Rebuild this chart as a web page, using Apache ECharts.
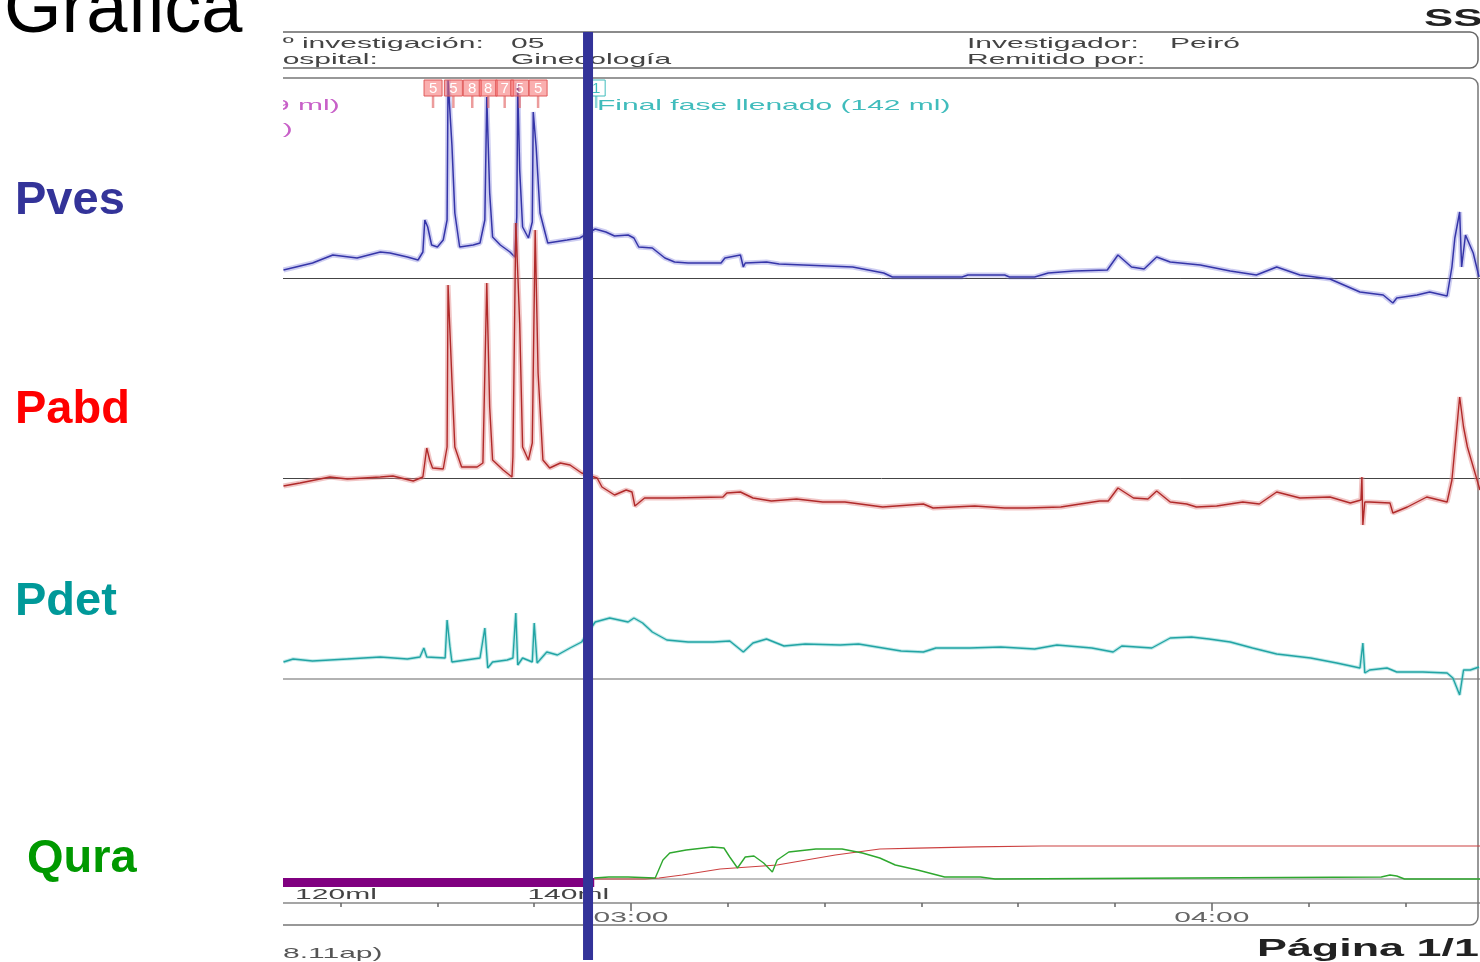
<!DOCTYPE html>
<html><head><meta charset="utf-8">
<script src="https://cdn.jsdelivr.net/npm/echarts@6/dist/echarts.min.js"></script>
<style>html,body{margin:0;padding:0;background:#fff}#c{width:1480px;height:962px}</style>
</head><body><div id="c"></div><script>
// ---- time axis (seconds) ----
const timeMin = 144.05, timeMax = 267.7;
const tickTimes = [150,160,170,180,190,200,210,220,230,240,250,260];
const labelTimes = [180, 240];
const tickLabels = ['03:00', '04:00'];
const volMarkTimes = [145.3, 169.3];
const volMarkLabels = ['120ml', '140ml'];
const fillingPhase = [144.05, 176.2];
const cursorTime = 175.56;
const eventTimes = [159.55, 161.65, 163.6, 165.25, 166.95, 168.5, 170.4];
const eventLabels = ['5', '5', '8', '8', '7', '5', '5'];
const endFillTimes = [176.4];
const endFillLabels = ['1'];

// ---- traces: [time s, value] ----
const pves = [[144.1,4],[147.1,7.5],[149.2,11.5],[151.7,10],[154.1,13],[155.1,12.5],[156.9,10.5],[158.0,9],[158.5,13],[158.7,29],[159.0,25.5],[159.4,16.5],[160.0,15.5],[160.6,19],[161.0,29],[161.1,99],[161.5,66.5],[161.8,32.5],[162.3,15.5],[163.7,16.5],[164.4,17.5],[164.9,29],[165.1,90.5],[165.4,42.5],[165.7,20.5],[166.5,16.5],[167.5,13],[168.0,10.5],[168.2,30.5],[168.3,97.5],[168.5,54],[168.8,25.5],[169.4,20],[169.8,28],[169.9,83],[170.2,65.5],[170.6,32.5],[171.4,17.5],[173.4,19],[174.7,20],[176.3,24.5],[177.4,23],[178.3,21],[179.7,21.5],[180.3,20],[180.8,15.5],[182.2,15],[183.5,10],[184.5,8],[185.9,7.5],[189.3,7.5],[189.7,10],[191.3,11.5],[191.6,5.5],[191.8,7.5],[194.0,8],[195.3,7],[197.8,6.5],[198.0,5.5],[202.9,5.5],[206.1,2.5],[207.0,0.5],[214.2,0.5],[214.8,1.5],[218.6,1.5],[219.1,0.5],[221.7,0.5],[223.1,2.5],[225.8,3.5],[229.2,4],[230.3,11.5],[231.7,5.5],[233.0,4.5],[234.3,10.5],[235.7,8],[238.8,6.5],[241.9,3.5],[244.6,1.5],[246.7,5.5],[249.1,1.5],[252.2,-0.5],[255.3,-7],[257.7,-8.5],[258.7,-12.5],[259.1,-10],[261.2,-8.5],[262.5,-7],[264.3,-9],[264.8,5.5],[265.1,20],[265.6,33],[265.8,5.5],[266.2,21.5],[267.0,12.5],[267.6,0.5]];
const pabd = [[144.1,-4],[145.8,-2.5],[148.9,0.5],[150.7,-0.5],[154.1,0.5],[155.4,1],[157.5,-1.5],[158.5,0.5],[158.9,15],[159.2,9],[159.5,5],[160.6,4.5],[161.0,15.5],[161.1,96.5],[161.5,49],[161.8,15.5],[162.5,5.5],[164.1,5.5],[164.7,7.5],[165.1,97.5],[165.4,35.5],[165.7,9],[166.8,4],[167.7,0.5],[167.8,10.5],[168.1,127.5],[168.5,77.5],[168.8,15.5],[169.4,9],[169.8,17.5],[170.1,124],[170.4,52.5],[170.9,9],[171.6,5],[172.7,7.5],[173.7,6.5],[174.9,2.5],[176.5,0],[177.0,-4.5],[178.3,-8.5],[179.5,-6],[180.1,-7],[180.4,-14],[181.4,-10],[184.3,-10],[189.5,-9.5],[189.9,-7.5],[191.3,-7],[192.6,-10],[194.5,-11.5],[197.1,-10.5],[199.8,-12],[202.1,-12],[206.0,-14.5],[210.2,-13],[211.2,-15],[215.5,-14],[218.6,-15],[220.9,-15],[224.4,-14.5],[228.4,-11.5],[229.3,-11.5],[230.3,-5],[231.9,-10],[233.4,-10.5],[234.3,-6.5],[235.7,-12],[237.4,-13],[238.4,-14.5],[240.5,-14],[243.2,-12],[244.9,-13],[246.7,-7],[249.1,-10],[252.2,-9.5],[254.3,-12.5],[255.4,-11],[255.5,0.5],[255.6,-23.5],[255.8,-12],[256.3,-12],[258.4,-12.5],[258.7,-17.5],[260.2,-14.5],[262.2,-9.5],[264.3,-12],[264.8,-1],[265.6,40.5],[266.0,25.5],[266.4,15.5],[267.7,-6]];
const pdet = [[144.1,8.5],[145.1,10],[147.1,9],[150.7,10],[154.1,11],[156.9,10],[158.2,11],[158.6,15.5],[158.9,11],[160.8,10.5],[161.0,29.5],[161.3,16],[161.5,8.5],[164.4,10.5],[164.9,25.5],[165.2,5.5],[165.7,8.5],[167.2,9.5],[167.8,10.5],[168.1,33],[168.3,7],[168.5,6],[168.8,10.5],[169.8,8.5],[170.0,28],[170.3,8],[171.3,13.5],[172.4,12],[173.7,15.5],[174.9,18.5],[176.3,28.5],[177.8,30.5],[179.7,28.5],[180.3,30.5],[181.2,28],[182.2,23.5],[183.7,19.5],[185.9,18.5],[188.5,18.5],[190.2,19],[191.6,13.5],[192.6,18],[194.0,20],[195.8,16.5],[198.0,17.5],[201.6,17],[203.5,17.5],[207.9,14],[210.2,13.5],[211.5,15.5],[215.0,15.5],[218.2,16],[221.7,15],[224.0,17],[227.6,15.5],[229.8,13.5],[230.7,16.5],[233.8,15.5],[235.7,20.5],[237.9,21],[239.7,20],[241.9,18.5],[244.2,15.5],[246.7,12.5],[250.2,10.5],[252.9,8],[255.3,5.5],[255.6,18],[255.8,3],[256.3,4.5],[258.1,5.5],[259.1,3.5],[261.8,3.5],[264.3,3],[264.9,0.5],[265.6,-8],[266.0,4.5],[266.7,4.5],[267.6,6]];
const qura = [[176.2,0.5],[177.7,1],[179.7,1],[182.5,0.5],[183.3,9.5],[184.0,13],[185.7,14.5],[188.4,16],[189.6,15.5],[190.2,11],[191.0,5.5],[191.8,11],[192.7,11.5],[193.7,8],[194.6,3.5],[195.1,9.5],[196.3,13.5],[199.1,15],[201.8,15],[203.9,13],[205.7,10.5],[207.3,7],[209.6,4.5],[212.4,1],[216.1,1],[217.6,0],[257.5,1],[258.4,2],[259.1,1.5],[259.9,0],[267.7,0]];
const vura = [[176.2,0],[181.5,0],[182.9,4],[185.3,17],[189.2,43],[195.1,60],[201.1,103],[205.7,129],[209.6,133],[215.6,138],[222.4,142],[267.7,142]];

const FONT = '"Liberation Sans", Arial, sans-serif';
const chart = echarts.init(document.getElementById('c'), null, {renderer: 'canvas'});

function xA(grid, extra) {
  return Object.assign({type: 'value', gridIndex: grid, min: timeMin, max: timeMax,
    axisLabel: {show: false}, axisTick: {show: false}, splitLine: {show: false},
    axisLine: {show: false}}, extra || {});
}
function yA(grid, min, max) {
  return {type: 'value', gridIndex: grid, min, max, show: false, splitLine: {show: false}};
}
function gridAt(top, height) {
  return {left: 283, right: 0, top, height, outerBoundsMode: 'none', containLabel: false};
}
function line(data, xi, yi, color, width, opacity, z) {
  return {type: 'line', data, xAxisIndex: xi, yAxisIndex: yi, showSymbol: false, symbol: 'none',
    clip: false, silent: true, z: z || 2,
    lineStyle: {color, width, opacity: opacity == null ? 1 : opacity}};
}
function eventSeries(times, labels, fill, stroke, txt) {
  return {type: 'custom', xAxisIndex: 0, yAxisIndex: 0, clip: false, silent: true, z: 3,
    data: times.map(t => [t]),
    renderItem(params, api) {
      const t = api.value(0);
      const top = api.coord([t, 99]);
      const mid = api.coord([t, 91]);
      const bot = api.coord([t, 85]);
      const w = 18;
      return {type: 'group', children: [
        {type: 'rect', shape: {x: top[0] - w / 2, y: top[1], width: w, height: mid[1] - top[1]},
          style: {fill, stroke, lineWidth: 1}},
        {type: 'line', shape: {x1: top[0], y1: mid[1], x2: top[0], y2: bot[1]},
          style: {stroke, lineWidth: 2.5, opacity: 0.6}},
        {type: 'text', style: {text: labels[params.dataIndex], x: top[0], y: (top[1] + mid[1]) / 2 + 1,
          textAlign: 'center', textVerticalAlign: 'middle', fill: txt, font: '15px ' + FONT}}
      ]};
    }};
}

const option = {
  animation: false,
  backgroundColor: '#fff',
  grid: [gridAt(78, 240), gridAt(218, 320), gridAt(599, 120), gridAt(799, 100), gridAt(860, 43), gridAt(32, 928)],
  xAxis: [
    xA(0, {axisLine: {show: true, onZero: true, lineStyle: {color: '#444', width: 1}}}),
    xA(1, {axisLine: {show: true, onZero: true, lineStyle: {color: '#444', width: 1}}}),
    xA(2, {axisLine: {show: true, onZero: true, lineStyle: {color: '#999', width: 1.5}}}),
    xA(3, {axisLine: {show: true, onZero: true, onZeroAxisIndex: 3, lineStyle: {color: '#aaa', width: 1.5}}}),
    xA(4, {position: 'bottom', axisLine: {show: true, onZero: false, lineStyle: {color: '#888', width: 1.5}},
      axisTick: {show: true, customValues: tickTimes, length: 4, inside: false, lineStyle: {color: '#666', width: 1.5}}}),
    xA(5),
    xA(4, {position: 'bottom', axisLine: {show: false, onZero: false},
      axisTick: {show: true, customValues: labelTimes, length: 8, lineStyle: {color: '#666', width: 1.5}}})
  ],
  yAxis: [yA(0, -20, 100), yA(1, -30, 130), yA(2, -20, 40), yA(3, -10, 40), yA(3, -86.06, 344.2), yA(4, 0, 1), yA(5, 0, 1)],
  series: [
    line(pves, 0, 0, '#7070d8', 5, 0.35),
    line(pves, 0, 0, '#3535a8', 1.5, 1),
    line(pabd, 1, 1, '#e08080', 5, 0.45),
    line(pabd, 1, 1, '#b02a2a', 1.4, 1),
    line(pdet, 2, 2, '#60c8c8', 3.5, 0.4),
    line(pdet, 2, 2, '#22a4a4', 1.4, 1),
    line(vura, 3, 4, '#cc4040', 1.1, 1),
    line(qura, 3, 3, '#2fa82f', 1.4, 1),
    line(fillingPhase.map(t => [t, -1.75]), 3, 3, '#800080', 9, 1),
    eventSeries(eventTimes, eventLabels, 'rgba(245,110,110,0.55)', '#e05a5a', '#fff'),
    eventSeries(endFillTimes, endFillLabels, 'rgba(255,255,255,0.6)', '#40bcbc', '#40bcbc'),
    line([[cursorTime, 0], [cursorTime, 1]], 5, 6, '#333399', 10, 1, 100)
  ]
};
chart.setOption(option);

function stext(x, y, text, o) {
  o = o || {};
  return {type: 'text', x, y: y + 2, scaleX: o.sx == null ? 2 : o.sx, z: o.z == null ? 5 : o.z, silent: true,
    style: {text, font: (o.bold ? 'bold ' : '') + (o.size || 15) + 'px ' + FONT,
      fill: o.fill || '#333', textAlign: o.align || 'left', textVerticalAlign: 'middle'}};
}

const gfx = [
  {type: 'rect', z: 1, silent: true, shape: {x: 250, y: 32, width: 1228, height: 36, r: 8},
    style: {fill: 'none', stroke: '#666', lineWidth: 1.5}},
  {type: 'rect', z: 1, silent: true, shape: {x: 250, y: 78, width: 1228, height: 847, r: 8},
    style: {fill: 'none', stroke: '#777', lineWidth: 1.5}},
  stext(261, 42, 'Nº investigación:', {fill: '#444'}),
  stext(511, 42, '05', {fill: '#444'}),
  stext(261, 58, 'Hospital:', {fill: '#444'}),
  stext(511, 58, 'Ginecología', {fill: '#444'}),
  stext(967, 42, 'Investigador:', {fill: '#444'}),
  stext(1170, 42, 'Peiró', {fill: '#444'}),
  stext(967, 58, 'Remitido por:', {fill: '#444'}),
  stext(1424, 18, 'SS', {bold: true, size: 23, sx: 1.9, fill: '#222'}),
  stext(273, 104, '9 ml)', {fill: '#c860c8'}),
  stext(266, 128, '0)', {fill: '#c860c8'}),
  stext(597, 104, 'Final fase llenado (142 ml)', {fill: '#40bcbc'}),
  stext(283, 952, '8.11ap)', {fill: '#555'}),
  stext(1257, 948, 'Página 1/1', {bold: true, size: 23, sx: 1.95, fill: '#222'}),
  {type: 'rect', z: 20, silent: true, shape: {x: 246, y: 25, width: 37, height: 937}, style: {fill: '#fff'}},
  stext(4, 10, 'Grafica', {sx: 1, size: 74, fill: '#000', z: 30}),
  stext(15, 199, 'Pves', {sx: 1, size: 47, bold: true, fill: '#333399', z: 30}),
  stext(15, 408, 'Pabd', {sx: 1, size: 47, bold: true, fill: '#ff0000', z: 30}),
  stext(15, 600, 'Pdet', {sx: 1, size: 47, bold: true, fill: '#009999', z: 30}),
  stext(27, 857, 'Qura', {sx: 1, size: 47, bold: true, fill: '#009900', z: 30})
];
labelTimes.forEach((t, i) => {
  const px = chart.convertToPixel({xAxisIndex: 4}, t);
  gfx.push(stext(px, 916, tickLabels[i], {align: 'center', fill: '#666', size: 15}));
});
volMarkTimes.forEach((t, i) => {
  const px = chart.convertToPixel({xAxisIndex: 3}, t);
  gfx.push(stext(px, 893, volMarkLabels[i], {fill: '#444', size: 15}));
});
chart.setOption({graphic: gfx});
</script></body></html>
